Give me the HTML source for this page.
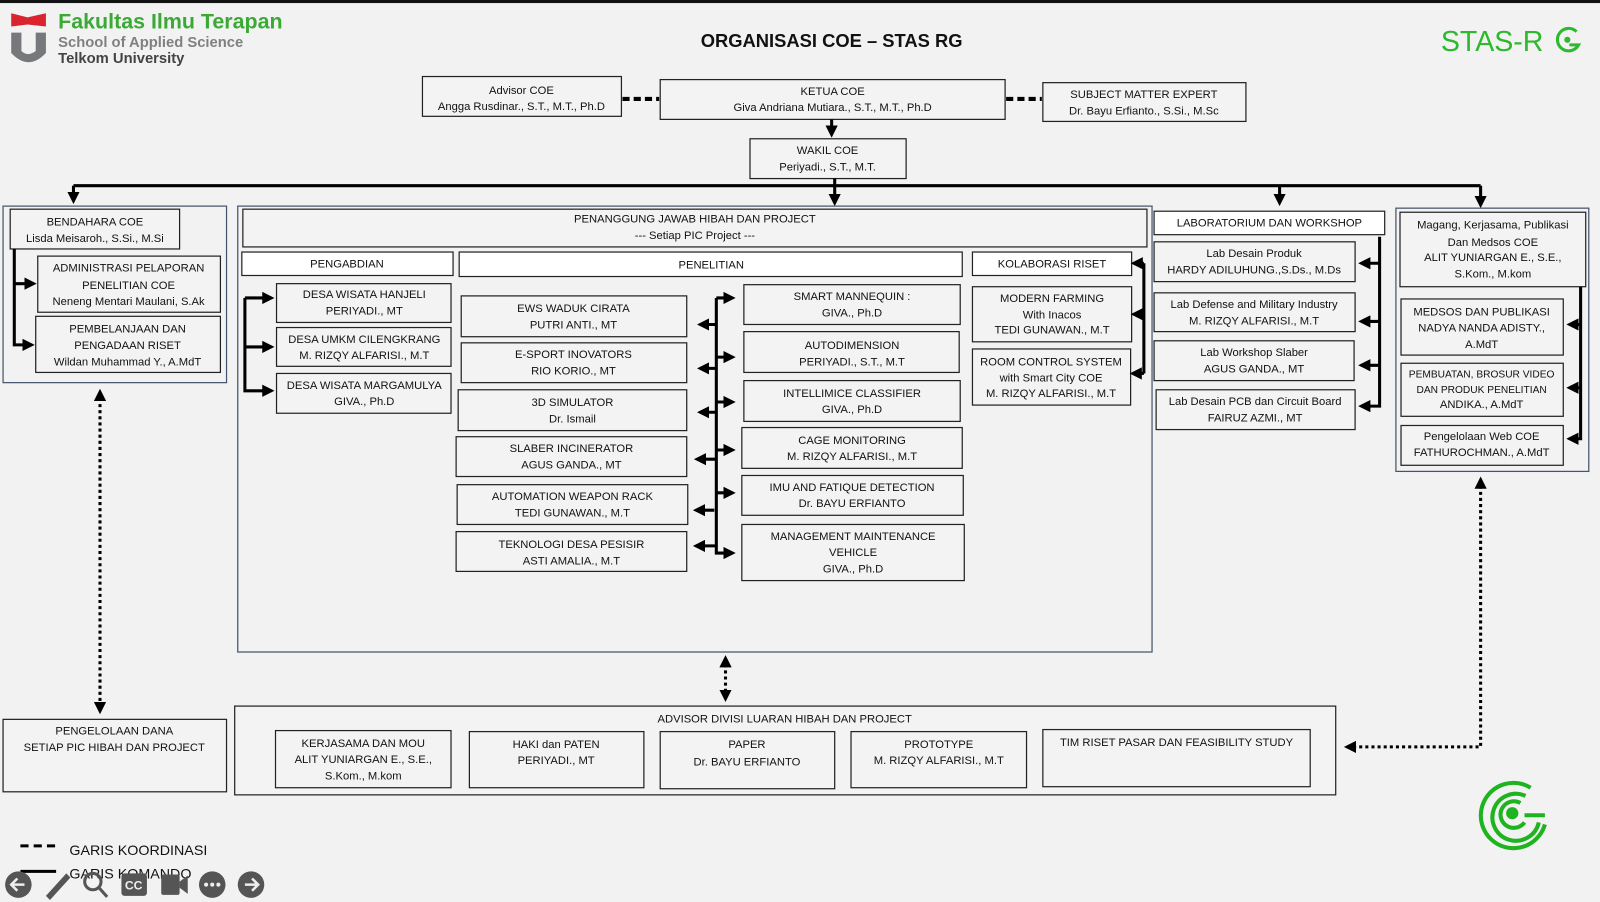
<!DOCTYPE html>
<html><head><meta charset="utf-8"><style>
html,body{margin:0;padding:0;background:#f2f2f2;}
svg{display:block;}
text{font-family:"Liberation Sans",sans-serif;font-size:11px;fill:#111;}
.b{fill:#f3f3f3;stroke:#222;stroke-width:1.2;}
.w{fill:#fff;stroke:#222;stroke-width:1.2;}
.c{fill:none;stroke:#44546a;stroke-width:1.2;}
.l{stroke:#000;stroke-width:3;fill:none;}
.d{stroke:#000;stroke-width:3;fill:none;stroke-dasharray:3 3;}
.k{stroke:#000;stroke-width:4;fill:none;stroke-dasharray:7 4;}
</style></head><body>
<svg width="1600" height="902" viewBox="0 0 1568 884" preserveAspectRatio="none" xmlns="http://www.w3.org/2000/svg">
<defs>
<marker id="a" markerWidth="4" markerHeight="4" refX="3" refY="2" orient="auto-start-reverse" markerUnits="strokeWidth"><path d="M0,0 L4,2 L0,4 z" fill="#000"/></marker>
</defs>
<rect width="1568" height="884" fill="#f2f2f2"/>
<rect width="1568" height="3" fill="#111"/>
<!-- logo -->
<path d="M11,13 L27,17 L45,13 L45,26 L27,24 L11,26 z" fill="#d9232d"/>
<path d="M11,32 L21,32 L21,50 Q27,56 35,50 L35,32 L45,32 L45,52 Q28,70 11,52 z" fill="#77787b"/>
<text x="57" y="28" style="font-size:21px;font-weight:bold;fill:#3aaa35">Fakultas Ilmu Terapan</text>
<text x="57" y="46" style="font-size:14.5px;fill:#808080;font-weight:bold">School of Applied Science</text>
<text x="57" y="62" style="font-size:14.5px;fill:#444;font-weight:bold">Telkom University</text>
<text x="815" y="46" text-anchor="middle" style="font-size:18px;font-weight:bold">ORGANISASI COE – STAS RG</text>
<text x="1412" y="50" style="font-size:28px;fill:#2db92d">STAS-R</text>
<g fill="none" stroke="#2db92d" stroke-width="3">
<path d="M1545,31 A11,11 0 1,0 1547,44 L1538,44"/>
</g>
<circle cx="1536" cy="39" r="3" fill="#2db92d"/>
<!-- top -->
<rect class="b" x="414" y="75" width="195" height="39"/>
<text x="511" y="92" text-anchor="middle">Advisor COE</text><text x="511" y="108" text-anchor="middle">Angga Rusdinar., S.T., M.T., Ph.D</text>
<line class="k" x1="610" y1="97" x2="646" y2="97"/>
<rect class="b" x="647" y="78" width="338" height="39"/>
<text x="816" y="93" text-anchor="middle">KETUA COE</text><text x="816" y="109" text-anchor="middle">Giva Andriana Mutiara., S.T., M.T., Ph.D</text>
<line class="k" x1="986" y1="97" x2="1021" y2="97"/>
<rect class="b" x="1022" y="81" width="199" height="38"/>
<text x="1121" y="96" text-anchor="middle">SUBJECT MATTER EXPERT</text><text x="1121" y="112" text-anchor="middle">Dr. Bayu Erfianto., S.Si., M.Sc</text>
<line class="l" x1="815" y1="117" x2="815" y2="132" marker-end="url(#a)"/>
<rect class="b" x="735" y="136" width="153" height="39"/>
<text x="811" y="151" text-anchor="middle">WAKIL COE</text><text x="811" y="167" text-anchor="middle">Periyadi., S.T., M.T.</text>
<line class="l" x1="72" y1="182" x2="1451" y2="182"/>
<line class="l" x1="818" y1="175" x2="818" y2="199" marker-end="url(#a)"/>
<line class="l" x1="72" y1="182" x2="72" y2="197" marker-end="url(#a)"/>
<line class="l" x1="1254" y1="182" x2="1254" y2="199" marker-end="url(#a)"/>
<line class="l" x1="1451" y1="182" x2="1451" y2="201" marker-end="url(#a)"/>
<!-- left -->
<rect class="c" x="3" y="202" width="219" height="173"/>
<rect class="b" x="10" y="205" width="166" height="39"/>
<text x="93" y="221" text-anchor="middle">BENDAHARA COE</text><text x="93" y="237" text-anchor="middle">Lisda Meisaroh., S.Si., M.Si</text>
<rect class="b" x="37" y="251" width="179" height="55"/>
<text x="126" y="266" text-anchor="middle">ADMINISTRASI PELAPORAN</text><text x="126" y="283" text-anchor="middle">PENELITIAN COE</text><text x="126" y="299" text-anchor="middle">Neneng Mentari Maulani, S.Ak</text>
<rect class="b" x="35" y="310" width="181" height="55"/>
<text x="125" y="326" text-anchor="middle">PEMBELANJAAN DAN</text><text x="125" y="342" text-anchor="middle">PENGADAAN RISET</text><text x="125" y="358" text-anchor="middle">Wildan Muhammad Y., A.MdT</text>
<path class="l" d="M14,244 L14,338 L31,338" marker-end="url(#a)"/>
<path class="l" d="M14,278 L33,278" marker-end="url(#a)"/>
<line class="d" x1="98" y1="384" x2="98" y2="697" marker-start="url(#a)" marker-end="url(#a)"/>
<rect class="b" x="3" y="705" width="219" height="71"/>
<text x="112" y="720" text-anchor="middle">PENGELOLAAN DANA</text><text x="112" y="736" text-anchor="middle">SETIAP PIC HIBAH DAN PROJECT</text>
<!-- main -->
<rect class="c" x="233" y="202" width="896" height="437"/>
<rect class="b" x="238" y="205" width="886" height="37"/>
<text x="681" y="218" text-anchor="middle">PENANGGUNG JAWAB HIBAH DAN PROJECT</text><text x="681" y="234" text-anchor="middle">--- Setiap PIC Project ---</text>
<rect class="w" x="237" y="247" width="207" height="23"/><text x="340" y="262" text-anchor="middle">PENGABDIAN</text>
<rect class="w" x="450" y="247" width="493" height="24"/><text x="697" y="263" text-anchor="middle">PENELITIAN</text>
<rect class="w" x="953" y="247" width="156" height="23"/><text x="1031" y="262" text-anchor="middle">KOLABORASI RISET</text>
<rect class="b" x="271" y="278" width="171" height="38"/><text x="357" y="292" text-anchor="middle">DESA WISATA HANJELI</text><text x="357" y="308" text-anchor="middle">PERIYADI., MT</text>
<rect class="b" x="271" y="321" width="171" height="38"/><text x="357" y="336" text-anchor="middle">DESA UMKM CILENGKRANG</text><text x="357" y="352" text-anchor="middle">M. RIZQY ALFARISI., M.T</text>
<rect class="b" x="271" y="366" width="171" height="39"/><text x="357" y="381" text-anchor="middle">DESA WISATA MARGAMULYA</text><text x="357" y="397" text-anchor="middle">GIVA., Ph.D</text>
<path class="l" d="M240,292 L240,383 L266,383" marker-end="url(#a)"/>
<path class="l" d="M240,292 L266,292" marker-end="url(#a)"/>
<path class="l" d="M240,340 L266,340" marker-end="url(#a)"/>
<g text-anchor="middle">
<rect class="b" x="452" y="290" width="221" height="40"/><text x="562" y="306">EWS WADUK CIRATA</text><text x="562" y="322">PUTRI ANTI., MT</text>
<rect class="b" x="452" y="336" width="221" height="39"/><text x="562" y="351">E-SPORT INOVATORS</text><text x="562" y="367">RIO KORIO., MT</text>
<rect class="b" x="449" y="382" width="224" height="40"/><text x="561" y="398">3D SIMULATOR</text><text x="561" y="414">Dr. Ismail</text>
<rect class="b" x="447" y="428" width="226" height="39"/><text x="560" y="443">SLABER INCINERATOR</text><text x="560" y="459">AGUS GANDA., MT</text>
<rect class="b" x="448" y="475" width="226" height="39"/><text x="561" y="490">AUTOMATION WEAPON RACK</text><text x="561" y="506">TEDI GUNAWAN., M.T</text>
<rect class="b" x="447" y="521" width="226" height="39"/><text x="560" y="537">TEKNOLOGI DESA PESISIR</text><text x="560" y="553">ASTI AMALIA., M.T</text>
<rect class="b" x="729" y="279" width="212" height="39"/><text x="835" y="294">SMART MANNEQUIN :</text><text x="835" y="310">GIVA., Ph.D</text>
<rect class="b" x="729" y="325" width="211" height="40"/><text x="835" y="342">AUTODIMENSION</text><text x="835" y="358">PERIYADI., S.T., M.T</text>
<rect class="b" x="729" y="373" width="212" height="40"/><text x="835" y="389">INTELLIMICE CLASSIFIER</text><text x="835" y="405">GIVA., Ph.D</text>
<rect class="b" x="727" y="419" width="216" height="40"/><text x="835" y="435">CAGE MONITORING</text><text x="835" y="451">M. RIZQY ALFARISI., M.T</text>
<rect class="b" x="727" y="466" width="217" height="39"/><text x="835" y="481">IMU AND FATIQUE DETECTION</text><text x="835" y="497">Dr. BAYU ERFIANTO</text>
<rect class="b" x="727" y="514" width="218" height="55"/><text x="836" y="529">MANAGEMENT MAINTENANCE</text><text x="836" y="545">VEHICLE</text><text x="836" y="561">GIVA., Ph.D</text>
<rect class="b" x="953" y="281" width="156" height="54"/><text x="1031" y="296">MODERN FARMING</text><text x="1031" y="312">With Inacos</text><text x="1031" y="327">TEDI GUNAWAN., M.T</text>
<rect class="b" x="953" y="342" width="155" height="55"/><text x="1030" y="358">ROOM CONTROL SYSTEM</text><text x="1030" y="374">with Smart City COE</text><text x="1030" y="389">M. RIZQY ALFARISI., M.T</text>
</g>
<path class="l" d="M702,292 L702,542 L718,542" marker-end="url(#a)"/>
<path class="l" d="M702,292 L718,292" marker-end="url(#a)"/>
<path class="l" d="M702,350 L718,350" marker-end="url(#a)"/>
<path class="l" d="M702,394 L718,394" marker-end="url(#a)"/>
<path class="l" d="M702,441 L718,441" marker-end="url(#a)"/>
<path class="l" d="M702,483 L718,483" marker-end="url(#a)"/>
<path class="l" d="M702,318 L686,318" marker-end="url(#a)"/>
<path class="l" d="M702,361 L686,361" marker-end="url(#a)"/>
<path class="l" d="M702,404 L686,404" marker-end="url(#a)"/>
<path class="l" d="M702,450 L683,450" marker-end="url(#a)"/>
<path class="l" d="M700,500 L682,500" marker-end="url(#a)"/>
<path class="l" d="M702,535 L682,535" marker-end="url(#a)"/>
<path class="l" d="M1121,258 L1121,366"/>
<path class="l" d="M1121,258 L1111,258" marker-end="url(#a)"/>
<path class="l" d="M1121,308 L1111,308" marker-end="url(#a)"/>
<path class="l" d="M1121,366 L1110,366" marker-end="url(#a)"/>
<!-- labs -->
<rect class="w" x="1131" y="207" width="226" height="23"/><text x="1244" y="222" text-anchor="middle">LABORATORIUM DAN WORKSHOP</text>
<g text-anchor="middle">
<rect class="b" x="1131" y="237" width="197" height="39"/><text x="1229" y="252">Lab Desain Produk</text><text x="1229" y="268">HARDY ADILUHUNG.,S.Ds., M.Ds</text>
<rect class="b" x="1131" y="287" width="197" height="38"/><text x="1229" y="302">Lab Defense and Military Industry</text><text x="1229" y="318">M. RIZQY ALFARISI., M.T</text>
<rect class="b" x="1131" y="334" width="196" height="39"/><text x="1229" y="349">Lab Workshop Slaber</text><text x="1229" y="365">AGUS GANDA., MT</text>
<rect class="b" x="1133" y="382" width="195" height="39"/><text x="1230" y="397">Lab Desain PCB dan Circuit Board</text><text x="1230" y="413">FAIRUZ AZMI., MT</text>
</g>
<path class="l" d="M1352,232 L1352,398 L1334,398" marker-end="url(#a)"/>
<path class="l" d="M1352,258 L1334,258" marker-end="url(#a)"/>
<path class="l" d="M1352,315 L1334,315" marker-end="url(#a)"/>
<path class="l" d="M1352,358 L1334,358" marker-end="url(#a)"/>
<!-- right -->
<rect class="c" x="1368" y="204" width="189" height="258"/>
<g text-anchor="middle">
<rect class="b" x="1372" y="208" width="182" height="73"/><text x="1463" y="224">Magang, Kerjasama, Publikasi</text><text x="1463" y="241">Dan Medsos COE</text><text x="1463" y="256">ALIT YUNIARGAN E., S.E.,</text><text x="1463" y="272">S.Kom., M.kom</text>
<rect class="b" x="1373" y="293" width="159" height="55"/><text x="1452" y="309">MEDSOS DAN PUBLIKASI</text><text x="1452" y="325">NADYA NANDA ADISTY.,</text><text x="1452" y="341">A.MdT</text>
<rect class="b" x="1373" y="356" width="159" height="52"/><text x="1452" y="370" style="font-size:10px">PEMBUATAN, BROSUR VIDEO</text><text x="1452" y="385" style="font-size:10px">DAN PRODUK PENELITIAN</text><text x="1452" y="400">ANDIKA., A.MdT</text>
<rect class="b" x="1373" y="417" width="159" height="39"/><text x="1452" y="431">Pengelolaan Web COE</text><text x="1452" y="447">FATHUROCHMAN., A.MdT</text>
</g>
<path class="l" d="M1549,281 L1549,430 L1538,430" marker-end="url(#a)"/>
<path class="l" d="M1549,318 L1538,318" marker-end="url(#a)"/>
<path class="l" d="M1549,380 L1538,380" marker-end="url(#a)"/>
<path class="d" d="M1451,470 L1451,732 L1320,732" marker-start="url(#a)" marker-end="url(#a)"/>
<line class="d" x1="711" y1="645" x2="711" y2="685" marker-start="url(#a)" marker-end="url(#a)"/>
<!-- bottom -->
<rect class="b" x="230" y="692" width="1079" height="87"/>
<text x="769" y="708" text-anchor="middle">ADVISOR DIVISI LUARAN  HIBAH DAN PROJECT</text>
<g text-anchor="middle">
<rect class="b" x="270" y="716" width="172" height="56"/><text x="356" y="732">KERJASAMA DAN MOU</text><text x="356" y="748">ALIT YUNIARGAN E., S.E.,</text><text x="356" y="764">S.Kom., M.kom</text>
<rect class="b" x="460" y="717" width="171" height="55"/><text x="545" y="733">HAKI dan PATEN</text><text x="545" y="749">PERIYADI., MT</text>
<rect class="b" x="647" y="717" width="171" height="56"/><text x="732" y="733">PAPER</text><text x="732" y="750">Dr. BAYU ERFIANTO</text>
<rect class="b" x="834" y="717" width="172" height="55"/><text x="920" y="733">PROTOTYPE</text><text x="920" y="749">M. RIZQY ALFARISI., M.T</text>
<rect class="b" x="1022" y="715" width="262" height="56"/><text x="1153" y="731">TIM RISET PASAR DAN FEASIBILITY STUDY</text>
</g>
<!-- bottom-right logo -->
<g fill="none" stroke="#1fb31f" stroke-width="4">
<path d="M1500,772 A32,32 0 1,0 1514,808"/>
<path d="M1495,780 A23,23 0 1,0 1508,806"/>
<path d="M1490,787 A13,13 0 1,0 1494,806"/>
<path d="M1494,799 L1514,799"/>
</g>
<circle cx="1482" cy="797" r="6" fill="#1fb31f"/>
<!-- legend -->
<line x1="20" y1="829" x2="55" y2="829" stroke="#000" stroke-width="3" stroke-dasharray="8 5"/>
<text x="68" y="838" style="font-size:14px">GARIS KOORDINASI</text>
<line x1="20" y1="854" x2="55" y2="854" stroke="#000" stroke-width="3"/>
<text x="68" y="861" style="font-size:14px">GARIS KOMANDO</text>
<!-- toolbar -->
<g fill="#555">
<circle cx="18" cy="867" r="13"/><circle cx="208" cy="867" r="13"/><circle cx="246" cy="867" r="13"/>
<path d="M45,878 L65,856 L69,860 L49,882 z"/>
<circle cx="91" cy="864" r="8" fill="none" stroke="#555" stroke-width="3"/><line x1="97" y1="870" x2="105" y2="879" stroke="#555" stroke-width="3"/>
<rect x="119" y="856" width="25" height="22" rx="3"/>
<rect x="158" y="857" width="18" height="20" rx="2"/><path d="M176,864 L184,858 L184,876 L176,870 z"/>
</g>
<text x="131" y="872" text-anchor="middle" style="fill:#eee;font-size:12px;font-weight:bold">CC</text>
<path d="M24,867 L12,867 M17,861 L11,867 L17,873" stroke="#eee" stroke-width="2.5" fill="none"/>
<path d="M240,867 L252,867 M247,861 L253,867 L247,873" stroke="#eee" stroke-width="2.5" fill="none"/>
<circle cx="202" cy="867" r="2" fill="#eee"/><circle cx="208" cy="867" r="2" fill="#eee"/><circle cx="214" cy="867" r="2" fill="#eee"/>
</svg>
</body></html>
